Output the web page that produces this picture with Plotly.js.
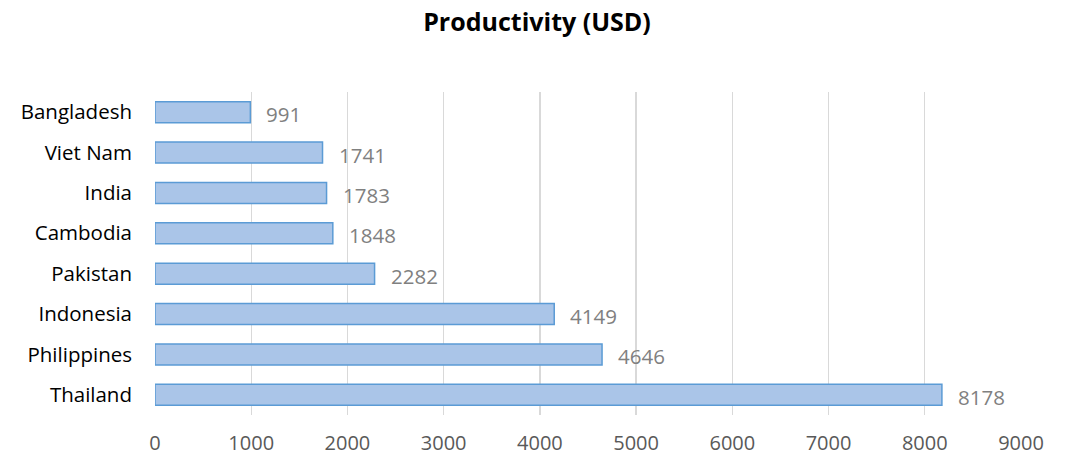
<!DOCTYPE html>
<html>
<head>
<meta charset="utf-8">
<script src="https://cdn.plot.ly/plotly-3.0.1.min.js"></script>
<style>html,body{margin:0;padding:0;background:#fff;}#chart{width:1074px;height:461px;}</style>
</head>
<body>
<div id="chart"></div>
<script>
const countries = ["Thailand", "Philippines", "Indonesia", "Pakistan", "Cambodia", "India", "Viet Nam", "Bangladesh"];
const productivity = [8178, 4646, 4149, 2282, 1848, 1783, 1741, 991];
const xTicks = [0, 1000, 2000, 3000, 4000, 5000, 6000, 7000, 8000, 9000];

const FONT = "'Open Sans', 'Liberation Sans', sans-serif";

const bars = {
  type: "bar",
  orientation: "h",
  y: countries,
  x: productivity,
  marker: {color: "#aac5e8", line: {color: "#5b9bd5", width: 1.5}},
  hoverinfo: "x+y"
};

const annotations = countries.map((c, i) => ({
  x: productivity[i], y: c, xref: "x", yref: "y",
  text: String(productivity[i]), showarrow: false,
  xanchor: "left", yanchor: "middle", xshift: 14, yshift: -2,
  font: {family: FONT, size: 20.5, color: "#808080"}
}));

const layout = {
  width: 1074, height: 461,
  margin: {l: 155, r: 53, t: 92, b: 46, pad: 0},
  paper_bgcolor: "#fff", plot_bgcolor: "#fff",
  title: {text: "<b>Productivity (USD)</b>", x: 0.5, xanchor: "center", y: 0.952, yanchor: "middle",
          font: {family: FONT, size: 25, color: "#000"}},
  bargap: 0.48,
  showlegend: false,
  xaxis: {
    range: [0, 9000], tickvals: xTicks, ticktext: xTicks.map(String),
    showgrid: true, gridcolor: "#d9d9d9", gridwidth: 1.3,
    zeroline: false, showline: false, ticks: "",
    ticklabelstandoff: 14,
    tickfont: {family: FONT, size: 20, color: "#595959"}
  },
  yaxis: {
    type: "category", categoryorder: "array", categoryarray: countries,
    range: [-0.5, 7.5],
    showgrid: false, zeroline: false, showline: false, ticks: "",
    ticklabelstandoff: 22,
    tickfont: {family: FONT, size: 20.5, color: "#000"}
  },
  annotations: annotations
};

Plotly.newPlot("chart", [bars], layout, {displayModeBar: false, staticPlot: true});
</script>
</body>
</html>
